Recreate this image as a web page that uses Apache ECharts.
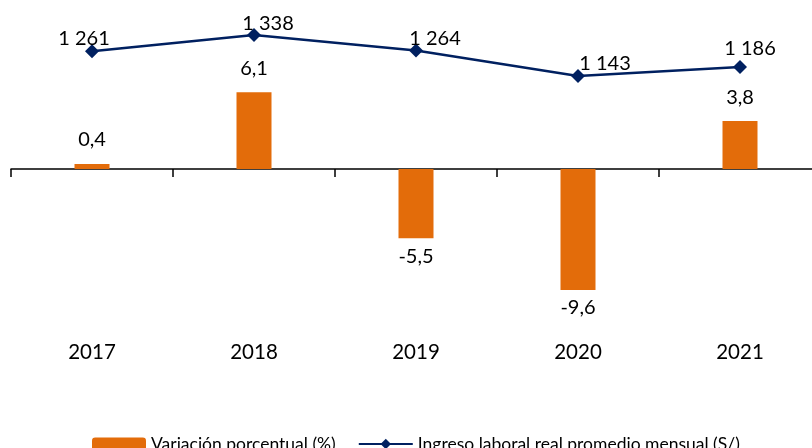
<!DOCTYPE html>
<html>
<head>
<meta charset="utf-8">
<script src="https://cdn.jsdelivr.net/npm/echarts@6/dist/echarts.min.js"></script>
<style>
  html, body { margin: 0; padding: 0; background: #fff; }
  #chart { width: 812px; height: 448px; }
</style>
</head>
<body>
<div id="chart"></div>
<script>
const years = ['2017', '2018', '2019', '2020', '2021'];
const variacion = [0.4, 6.1, -5.5, -9.6, 3.8];
const ingreso = [1261, 1338, 1264, 1143, 1186];

// label nudges for the line values, as in the original
const lineLabelOffsets = [[-8, 8], [14, 10], [19, 9], [27, 9], [10, 3]];

const fmtComma = v => String(v).replace('.', ',');
const fmtThousands = v => String(v).replace(/\B(?=(\d{3})+(?!\d))/g, ' ');

let myChart = echarts.init(document.getElementById('chart'));
let option = {
  animation: false,
  textStyle: { fontFamily: 'Lato' },
  legend: {
    top: 430,
    left: 87,
    itemWidth: 54,
    itemHeight: 13,
    itemGap: 22,
    textStyle: { fontSize: 17.5, color: '#000', fontFamily: 'Lato' },
    data: ['Variación porcentual (%)', 'Ingreso laboral real promedio mensual (S/)']
  },
  grid: { left: 11, width: 810, top: 20, height: 275, outerBoundsMode: 'none', containLabel: false },
  xAxis: [
    {
      type: 'category',
      data: years,
      axisLine: { onZero: true, lineStyle: { color: '#000', width: 1.5 } },
      axisTick: { show: true, length: 8, lineStyle: { color: '#000', width: 1.5 } },
      axisLabel: { show: false },
      splitLine: { show: false }
    },
    {
      // year labels sit well below the zero line
      type: 'category',
      data: years,
      position: 'bottom',
      axisLine: { show: false },
      axisTick: { show: false },
      axisLabel: { margin: 47, fontSize: 20.5, color: '#000', fontFamily: 'Lato' },
      splitLine: { show: false }
    }
  ],
  yAxis: [
    { type: 'value', min: -10, max: 11.825, show: false, splitLine: { show: false } },
    { type: 'value', min: 101.4, max: 1409.3, show: false, splitLine: { show: false } }
  ],
  series: [
    {
      name: 'Variación porcentual (%)',
      type: 'bar',
      xAxisIndex: 0,
      yAxisIndex: 0,
      barWidth: 35,
      itemStyle: { color: '#E36C0A' },
      data: variacion.map(v => ({
        value: v,
        label: { position: v < 0 ? 'bottom' : 'top', distance: v < 0 ? 8 : 14 }
      })),
      label: {
        show: true,
        fontSize: 20,
        color: '#000',
        fontFamily: 'Lato',
        formatter: p => fmtComma(p.value)
      }
    },
    {
      name: 'Ingreso laboral real promedio mensual (S/)',
      type: 'line',
      xAxisIndex: 0,
      yAxisIndex: 1,
      symbol: 'diamond',
      symbolSize: 14,
      lineStyle: { color: '#002060', width: 2.5 },
      itemStyle: { color: '#002060' },
      data: ingreso.map((v, i) => ({
        value: v,
        label: { offset: lineLabelOffsets[i] }
      })),
      label: {
        show: true,
        position: 'top',
        distance: 4,
        fontSize: 20,
        color: '#000',
        fontFamily: 'Lato',
        formatter: p => fmtThousands(p.value)
      }
    }
  ]
};
myChart.setOption(option);
</script>
</body>
</html>
